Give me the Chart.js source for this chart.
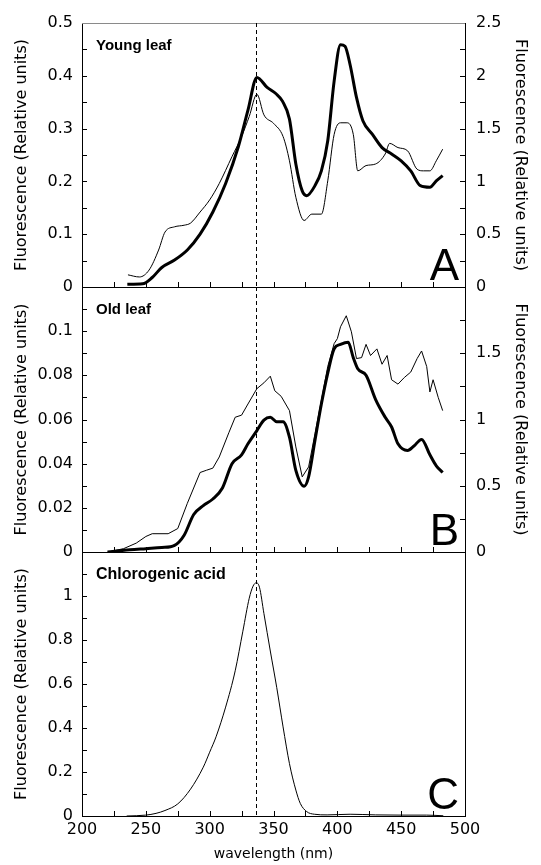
<!DOCTYPE html>
<html>
<head>
<meta charset="utf-8">
<script src="https://cdn.jsdelivr.net/npm/chart.js@4.4.1/dist/chart.umd.min.js"></script>
<style>
  html, body { margin: 0; padding: 0; background: #fff; }
  #wrap { position: relative; width: 541px; height: 865px; overflow: hidden; }
  canvas { position: absolute; left: 0; }
</style>
</head>
<body>
<div id="wrap">
  <canvas id="chartA" width="541" height="300" style="top:0px"></canvas>
  <canvas id="chartB" width="541" height="290" style="top:280px"></canvas>
  <canvas id="chartC" width="541" height="320" style="top:545px"></canvas>
</div>
<script>
// dashed reference line (nm)
const markerNm = 336.5

// A - young leaf, thick trace (left axis)
const youngThickNm = [235.5, 247.5, 255, 262.5, 272.5, 282.5, 292.5, 302.5, 312.5, 322.5, 330, 337, 345, 352, 357, 362.5, 367.5, 372.5, 376, 382.5, 387.5, 392.5, 397.5, 402.5, 406, 410, 415, 420, 427.5, 435, 442.5, 450, 457.5, 465, 472.5, 477.5, 482.5]
const youngThick = [0.005, 0.006, 0.018, 0.037, 0.051, 0.070, 0.100, 0.142, 0.196, 0.266, 0.335, 0.397, 0.378, 0.366, 0.352, 0.318, 0.233, 0.182, 0.173, 0.192, 0.220, 0.277, 0.390, 0.459, 0.456, 0.421, 0.359, 0.315, 0.289, 0.264, 0.252, 0.239, 0.220, 0.192, 0.189, 0.201, 0.211]

// A - young leaf, thin trace (right axis)
const youngThinNm = [236, 245, 252.5, 260, 265, 272.5, 280, 285, 292.5, 300, 307.5, 317.5, 325, 331, 337, 342.5, 350, 357.5, 362.5, 367.5, 374, 380, 387.5, 392.5, 397.5, 402.5, 407.5, 412.5, 416, 422.5, 430, 437.5, 441, 447.5, 455, 462.5, 467.5, 472.5, 477.5, 482.5]
const youngThin = [0.115, 0.095, 0.16, 0.35, 0.52, 0.57, 0.585, 0.605, 0.71, 0.825, 0.98, 1.235, 1.425, 1.615, 1.825, 1.63, 1.55, 1.425, 1.195, 0.85, 0.63, 0.69, 0.69, 1.005, 1.445, 1.555, 1.555, 1.445, 1.1, 1.15, 1.165, 1.26, 1.36, 1.32, 1.29, 1.115, 1.1, 1.1, 1.195, 1.305]

// B - old leaf, thick trace (left axis)
const oldThickNm = [220, 237.5, 250, 262.5, 272.5, 280, 287.5, 295, 302.5, 310, 317.5, 325, 330, 337, 342.5, 347.5, 352.5, 357.5, 362.5, 367.5, 374, 377.5, 382.5, 387.5, 392.5, 397.5, 402.5, 408.5, 412.5, 416, 422.5, 430, 437.5, 442.5, 447.5, 455, 460, 466, 472.5, 477.5, 482.5]
const oldThick = [0, 0.001, 0.0015, 0.002, 0.003, 0.0076, 0.017, 0.021, 0.024, 0.029, 0.040, 0.044, 0.049, 0.055, 0.0597, 0.061, 0.059, 0.059, 0.052, 0.037, 0.0298, 0.034, 0.0506, 0.067, 0.081, 0.092, 0.094, 0.095, 0.088, 0.083, 0.080, 0.069, 0.061, 0.0566, 0.049, 0.046, 0.048, 0.051, 0.044, 0.039, 0.036]

// B - old leaf, thin trace (right axis)
const oldThinNm = [220, 232.5, 242.5, 250, 255, 267.5, 275, 282.5, 292.5, 297.5, 302.5, 307.5, 315, 320, 325, 330, 337, 342.5, 347.5, 351, 356, 362.5, 367.5, 372.5, 377.5, 382.5, 387.5, 392.5, 397.5, 400, 402.5, 407, 411, 415, 419, 422.5, 426, 431, 435, 439, 442.5, 447.5, 452.5, 457.5, 462.5, 466, 470, 472.5, 475, 479, 482.5]
const oldThin = [0, 0.025, 0.067, 0.117, 0.138, 0.138, 0.177, 0.367, 0.6, 0.617, 0.633, 0.717, 0.9, 1.017, 1.033, 1.117, 1.233, 1.277, 1.327, 1.217, 1.175, 1.067, 0.793, 0.567, 0.642, 0.893, 1.145, 1.4, 1.573, 1.61, 1.7, 1.783, 1.662, 1.46, 1.467, 1.567, 1.483, 1.533, 1.417, 1.483, 1.3, 1.267, 1.317, 1.358, 1.46, 1.517, 1.4, 1.208, 1.3, 1.167, 1.067]

// C - chlorogenic acid
const acidNm = [235, 250, 258, 265, 275, 285, 295, 300, 305, 312.5, 320, 326, 331, 334, 336.5, 339, 342.5, 347.5, 352.5, 357.5, 362.5, 367.5, 371, 376, 382, 392, 410, 430, 450, 470, 483]
const acidVal = [0, 0.004, 0.012, 0.025, 0.055, 0.122, 0.222, 0.29, 0.36, 0.495, 0.66, 0.84, 0.99, 1.045, 1.06, 1.04, 0.92, 0.75, 0.585, 0.405, 0.238, 0.118, 0.057, 0.02, 0.008, 0.005, 0.008, 0.005, 0.004, 0.004, 0.001]

const yTitle = 'Fluorescence (Relative units)'

Chart.defaults.font.family = 'DejaVu Sans'
Chart.defaults.color = '#000'

const pts = (xs, ys) => xs.map((x, i) => ({ x: x, y: ys[i] }))
const fmt = (hideAbove) => (v) => (v > hideAbove + 1e-9 ? '' : String(+v.toFixed(3)))

// inward tick marks, dashed marker, panel captions
const panelDecor = {
  id: 'panelDecor',
  afterDatasetsDraw(chart, args, opts) {
    const { ctx, chartArea: a, scales } = chart
    ctx.save()
    ctx.strokeStyle = '#000'
    ctx.lineWidth = 1
    ctx.setLineDash([])
    Object.keys(opts.minor || {}).forEach(id => {
      const s = scales[id]
      const step = opts.minor[id]
      const n = Math.round((s.max - s.min) / step)
      for (let i = 1; i < n; i++) {
        const v = s.min + i * step
        ctx.beginPath()
        if (id === 'x') {
          const px = Math.round(s.getPixelForValue(v)) + 0.5
          ctx.moveTo(px, a.bottom); ctx.lineTo(px, a.bottom - 5)
        } else {
          const py = Math.round(s.getPixelForValue(v)) + 0.5
          if (s.position === 'left') { ctx.moveTo(a.left, py); ctx.lineTo(a.left + 5, py) }
          else { ctx.moveTo(a.right, py); ctx.lineTo(a.right - 5, py) }
        }
        ctx.stroke()
      }
    })
    if (opts.topBorder) {
      ctx.strokeStyle = opts.topBorder
      ctx.beginPath()
      ctx.moveTo(a.left, Math.round(a.top) + 0.5); ctx.lineTo(a.right, Math.round(a.top) + 0.5)
      ctx.stroke()
    }
    // dashed line
    const mx = Math.round(scales.x.getPixelForValue(markerNm)) + 0.5
    ctx.strokeStyle = '#000'
    ctx.setLineDash([4, 3])
    ctx.beginPath()
    ctx.moveTo(mx, a.top); ctx.lineTo(mx, a.bottom)
    ctx.stroke()
    ctx.setLineDash([])
    // captions
    ctx.fillStyle = '#000'
    ctx.textBaseline = 'alphabetic'
    ctx.textAlign = 'left'
    ctx.font = opts.nameFont
    ctx.fillText(opts.name, a.left + 14, a.top + 27)
    ctx.textAlign = 'right'
    ctx.font = '44px "Liberation Sans"'
    ctx.fillText(opts.letter, a.right - 6, a.bottom - 7)
    ctx.restore()
  }
}

function leftAxis(max, step, hideAbove) {
  return {
    position: 'left', min: 0, max: max,
    grid: { display: false, drawTicks: false },
    border: { color: '#000', width: 1 },
    ticks: { stepSize: step, padding: 9, autoSkip: false, font: { size: 16 }, callback: fmt(hideAbove) },
    title: { display: true, text: yTitle, font: { size: 16 }, padding: { top: 12, bottom: 0 } },
    afterFit: s => { s.width = 82; s.paddingTop = 0; s.paddingBottom = 0 }
  }
}

function rightAxis(max, step, hideAbove, labelled) {
  return {
    position: 'right', min: 0, max: max,
    grid: { display: false, drawTicks: false },
    border: { color: '#000', width: 1 },
    ticks: { display: labelled, stepSize: step, padding: 11, autoSkip: false, font: { size: 16 }, callback: fmt(hideAbove) },
    title: { display: labelled, text: yTitle, font: { size: 16 }, padding: { top: 11, bottom: 0 } },
    afterFit: s => { s.width = 76; s.paddingTop = 0; s.paddingBottom = 0 }
  }
}

function xAxis(height, labelled) {
  return {
    type: 'linear', position: 'bottom', min: 200, max: 500,
    grid: { display: false, drawTicks: false },
    border: { color: '#000', width: 1 },
    ticks: { display: labelled, stepSize: 50, padding: 4, autoSkip: false, font: { size: 16 } },
    title: { display: labelled, text: 'wavelength (nm)', font: { size: 14 }, padding: { top: 0, bottom: 2 } },
    afterFit: s => { s.height = height; s.paddingLeft = 0; s.paddingRight = 0 }
  }
}

const thinLine = { borderColor: '#000', borderWidth: 1, pointRadius: 0, fill: false }
const thickLine = { borderColor: '#000', borderWidth: 3, pointRadius: 0, fill: false, borderJoinStyle: 'round', cubicInterpolationMode: 'monotone' }

function panel(id, cfg) {
  return new Chart(document.getElementById(id), {
    type: 'line',
    data: { datasets: cfg.datasets },
    options: {
      responsive: false,
      animation: false,
      devicePixelRatio: 1,
      layout: { padding: { top: cfg.top, left: 0, right: 0, bottom: 0 } },
      scales: cfg.scales,
      plugins: {
        legend: { display: false },
        tooltip: { enabled: false },
        panelDecor: cfg.decor
      }
    },
    plugins: [panelDecor]
  })
}

panel('chartA', {
  top: 23,
  datasets: [
    { ...thinLine, data: pts(youngThinNm, youngThin), yAxisID: 'y2', cubicInterpolationMode: 'monotone' },
    { ...thickLine, data: pts(youngThickNm, youngThick), yAxisID: 'y' }
  ],
  scales: { x: xAxis(13, false), y: leftAxis(0.5, 0.1, 0.5), y2: rightAxis(2.5, 0.5, 2.5, true) },
  decor: { minor: { x: 25, y: 0.05, y2: 0.25 }, topBorder: '#8a8a8a', name: 'Young leaf', nameFont: 'bold 15px "Liberation Sans"', letter: 'A' }
})

panel('chartB', {
  top: 7,
  datasets: [
    { ...thinLine, data: pts(oldThinNm, oldThin), yAxisID: 'y2', tension: 0 },
    { ...thickLine, data: pts(oldThickNm, oldThick), yAxisID: 'y' }
  ],
  scales: { x: xAxis(18, false), y: leftAxis(0.12, 0.02, 0.1), y2: rightAxis(2, 0.5, 1.5, true) },
  decor: { minor: { x: 25, y: 0.01, y2: 0.25 }, name: 'Old leaf', nameFont: 'bold 15px "Liberation Sans"', letter: 'B' }
})

panel('chartC', {
  top: 7,
  datasets: [
    { ...thinLine, data: pts(acidNm, acidVal), yAxisID: 'y', cubicInterpolationMode: 'monotone' }
  ],
  scales: { x: xAxis(49, true), y: leftAxis(1.2, 0.2, 1), y2: rightAxis(1, 0.5, 1, false) },
  decor: { minor: { x: 25, y: 0.1 }, name: 'Chlorogenic acid', nameFont: 'bold 16px "Liberation Sans"', letter: 'C' }
})
</script>
</body>
</html>
